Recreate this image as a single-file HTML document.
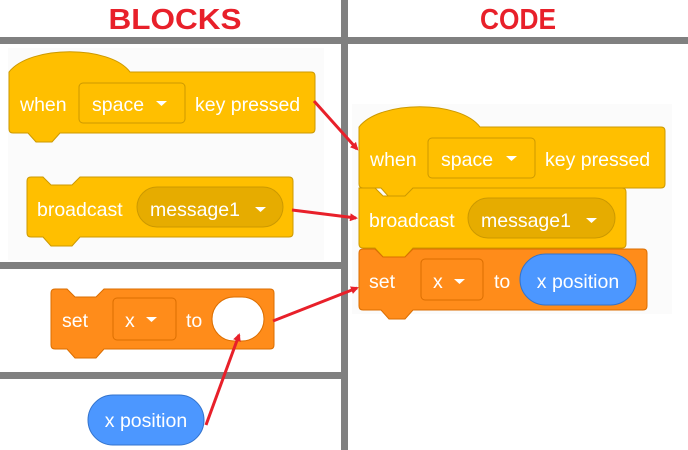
<!DOCTYPE html><html><head><style>body{margin:0;background:#fff}svg{display:block}text{font-family:"Liberation Sans",sans-serif}</style></head><body>
<svg width="688" height="450" viewBox="0 0 688 450" xmlns="http://www.w3.org/2000/svg">
<rect x="8" y="48" width="316" height="212" fill="#fbfbfb"/>
<rect x="352" y="104" width="320" height="210" fill="#fbfbfb"/>
<rect x="0" y="37" width="688" height="7" fill="#808080"/>
<rect x="341" y="0" width="7" height="450" fill="#808080"/>
<rect x="0" y="262" width="341" height="7" fill="#808080"/>
<rect x="0" y="372" width="341" height="7" fill="#808080"/>
<text x="175" y="29" font-size="29" font-weight="bold" fill="#e8202a" text-anchor="middle" textLength="133" lengthAdjust="spacingAndGlyphs">BLOCKS</text>
<text x="518" y="29" font-size="29" font-weight="bold" fill="#e8202a" text-anchor="middle" textLength="76" lengthAdjust="spacingAndGlyphs">CODE</text>
<g font-size="19.5" fill="#fff">
<path d="M9,72 C30,45 110,45 130,72 L311,72 Q315,72 315,76 L315,129 Q315,133 311,133 L60,133 L52,142 L36,142 L28,133 L13,133 Q9,133 9,129 Z" fill="#FFBF00" stroke="#CC9900"/>
<text x="20" y="111">when</text>
<rect x="79" y="83" width="106" height="40" rx="4" fill="#FFBF00" stroke="#CC9900"/>
<text x="92" y="111">space</text><path d="M156,101 h11 l-5.5,5 z" fill="#fff"/>
<text x="195" y="111">key pressed</text>
<path d="M31,177 L43,177 L51,185 L72,185 L80,177 L289,177 Q293,177 293,181 L293,233 Q293,237 289,237 L80,237 L72,246 L51,246 L43,237 L31,237 Q27,237 27,233 L27,181 Q27,177 31,177 Z" fill="#FFBF00" stroke="#CC9900"/>
<text x="37" y="216">broadcast</text>
<rect x="137" y="187" width="146" height="40" rx="20" fill="#E6AC00" stroke="#CC9900"/>
<text x="150" y="216">message1</text><path d="M255,207 h11 l-5.5,5 z" fill="#fff"/>
<path d="M55,289 L67,289 L75,297 L96,297 L104,289 L270,289 Q274,289 274,293 L274,345 Q274,349 270,349 L104,349 L96,358 L75,358 L67,349 L55,349 Q51,349 51,345 L51,293 Q51,289 55,289 Z" fill="#FF8C1A" stroke="#DB6E00"/>
<text x="62" y="327">set</text>
<rect x="113" y="298" width="63" height="42" rx="4" fill="#FF8C1A" stroke="#DB6E00"/>
<text x="125" y="327">x</text><path d="M146,317 h11 l-5.5,5 z" fill="#fff"/>
<text x="186" y="327">to</text>
<rect x="212" y="297" width="52" height="44" rx="22" fill="#fff" stroke="#DB6E00"/>
<rect x="88" y="395" width="116" height="50" rx="25" fill="#4C97FF" stroke="#3373CC"/>
<text x="146" y="427" text-anchor="middle">x position</text>
<path d="M359,127 C380,100 460,100 480,127 L661,127 Q665,127 665,131 L665,184 Q665,188 661,188 L413,188 L405,197 L389,197 L381,188 L363,188 Q359,188 359,184 Z" fill="#FFBF00" stroke="#CC9900"/>
<text x="370" y="166">when</text>
<rect x="428" y="138" width="107" height="40" rx="4" fill="#FFBF00" stroke="#CC9900"/>
<text x="441" y="166">space</text><path d="M506,156 h11 l-5.5,5 z" fill="#fff"/>
<text x="545" y="166">key pressed</text>
<path d="M359,188 L375,188 L383,196 L405,196 L413,188 L622,188 Q626,188 626,192 L626,244 Q626,248 622,248 L413,248 L405,257 L383,257 L375,248 L363,248 Q359,248 359,244 Z" fill="#FFBF00" stroke="#CC9900"/>
<text x="369" y="227">broadcast</text>
<rect x="468" y="198" width="147" height="40" rx="20" fill="#E6AC00" stroke="#CC9900"/>
<text x="481" y="227">message1</text><path d="M586,218 h11 l-5.5,5 z" fill="#fff"/>
<path d="M363,249 L375,249 L383,257 L405,257 L413,249 L643,249 Q647,249 647,253 L647,306 Q647,310 643,310 L413,310 L405,319 L389,319 L381,310 L363,310 Q359,310 359,306 L359,253 Q359,249 363,249 Z" fill="#FF8C1A" stroke="#DB6E00"/>
<text x="369" y="288">set</text>
<rect x="421" y="259" width="62" height="41" rx="4" fill="#FF8C1A" stroke="#DB6E00"/>
<text x="433" y="288">x</text><path d="M454,279 h11 l-5.5,5 z" fill="#fff"/>
<text x="494" y="288">to</text>
<rect x="520" y="254" width="116" height="51" rx="25.5" fill="#4C97FF" stroke="#3373CC"/>
<text x="578" y="288" text-anchor="middle">x position</text>
</g>
<defs><marker id="a" markerWidth="8" markerHeight="8" refX="6" refY="4" orient="auto" markerUnits="userSpaceOnUse"><path d="M0,0 L8,4 L0,8 Z" fill="#e8202a"/></marker></defs>
<g stroke="#e8202a" stroke-width="3" fill="none" marker-end="url(#a)">
<line x1="314" y1="101" x2="357" y2="149"/>
<line x1="292" y1="210" x2="356" y2="218"/>
<line x1="273" y1="321" x2="357" y2="288"/>
<line x1="206" y1="425" x2="239" y2="335"/>
</g>
</svg>
</body></html>
